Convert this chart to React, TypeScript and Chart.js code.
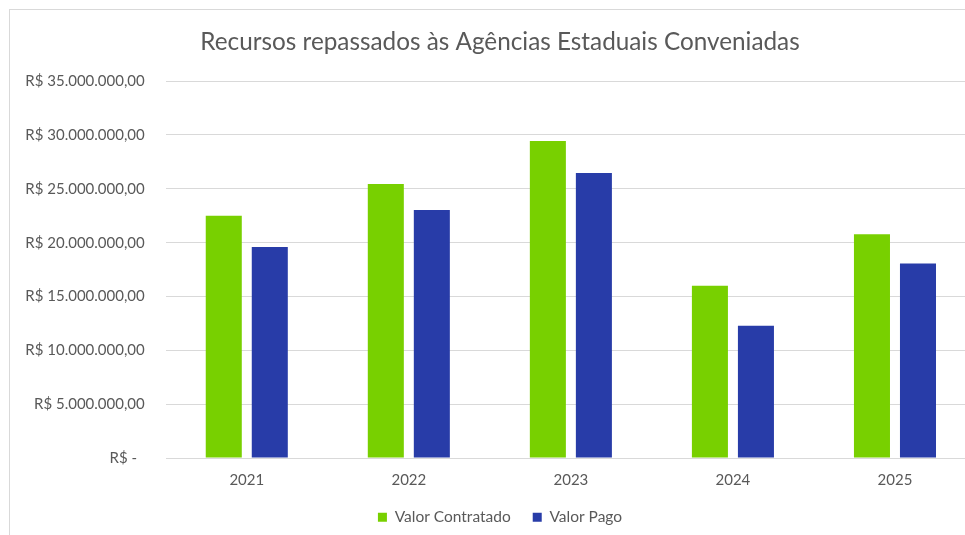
import React, { useEffect, useRef } from "react";
import { Chart, registerables } from "chart.js";

Chart.register(...registerables);

const TITLE = "Recursos repassados às Agências Estaduais Conveniadas";
const categories = ["2021", "2022", "2023", "2024", "2025"];
const valorContratado = [22500000, 25450000, 29450000, 15990000, 20770000];
const valorPago = [19600000, 23030000, 26480000, 12290000, 18060000];
const yTickLabels = [
  "R$ -  ",
  "R$ 5.000.000,00",
  "R$ 10.000.000,00",
  "R$ 15.000.000,00",
  "R$ 20.000.000,00",
  "R$ 25.000.000,00",
  "R$ 30.000.000,00",
  "R$ 35.000.000,00",
];

const GREEN = "#78D000";
const BLUE = "#283CA8";
const TEXT = "#595959";
const GRID = "#D9D9D9";
const FONT = "Lato, 'Open Sans', sans-serif";

export default function App() {
  const ref = useRef<HTMLCanvasElement | null>(null);

  useEffect(() => {
    if (!ref.current) return;
    const chart = new Chart(ref.current, {
      type: "bar",
      data: {
        labels: categories,
        datasets: [
          {
            label: "Valor Contratado",
            data: valorContratado,
            backgroundColor: GREEN,
            borderWidth: 0,
            categoryPercentage: 0.568,
            barPercentage: 0.783,
          },
          {
            label: "Valor Pago",
            data: valorPago,
            backgroundColor: BLUE,
            borderWidth: 0,
            categoryPercentage: 0.568,
            barPercentage: 0.783,
          },
        ],
      },
      options: {
        responsive: false,
        animation: false,
        layout: { padding: { left: 14, right: 22, top: 0, bottom: 0 } },
        plugins: {
          tooltip: { enabled: false },
          title: {
            display: true,
            text: TITLE,
            color: TEXT,
            font: { family: FONT, size: 24.3, weight: "normal" },
            padding: { top: 18, bottom: 24 },
          },
          legend: {
            display: true,
            position: "bottom",
            labels: {
              color: TEXT,
              font: { family: FONT, size: 15.5 },
              boxWidth: 9,
              boxHeight: 9,
              padding: 22,
            },
          },
        },
        scales: {
          x: {
            grid: { display: false, drawTicks: false },
            border: { display: false },
            ticks: {
              color: TEXT,
              font: { family: FONT, size: 15 },
              padding: 13,
            },
            afterFit: (scale: any) => {
              scale.height = 29.5;
            },
          },
          y: {
            min: 0,
            max: 35000000,
            grid: { color: GRID, lineWidth: 1, drawTicks: false },
            border: { display: false },
            ticks: {
              stepSize: 5000000,
              color: TEXT,
              font: { family: FONT, size: 15 },
              padding: 21,
              callback: (_v: any, i: number) => yTickLabels[i],
            },
            afterFit: (scale: any) => {
              scale.width = 141.75;
            },
          },
        },
      },
    });
    return () => chart.destroy();
  }, []);

  return (
    <div
      style={{
        position: "fixed",
        left: 0,
        top: 0,
        width: 965,
        height: 535,
        overflow: "hidden",
        background: "#fff",
      }}
    >
      <div
        style={{
          position: "absolute",
          left: 9,
          top: 9,
          width: 1100,
          height: 700,
          borderLeft: `1px solid ${GRID}`,
          borderTop: `1px solid ${GRID}`,
        }}
      />
      <canvas
        ref={ref}
        width={988}
        height={525}
        style={{ position: "absolute", left: 10, top: 10, width: 988, height: 525 }}
      />
    </div>
  );
}
